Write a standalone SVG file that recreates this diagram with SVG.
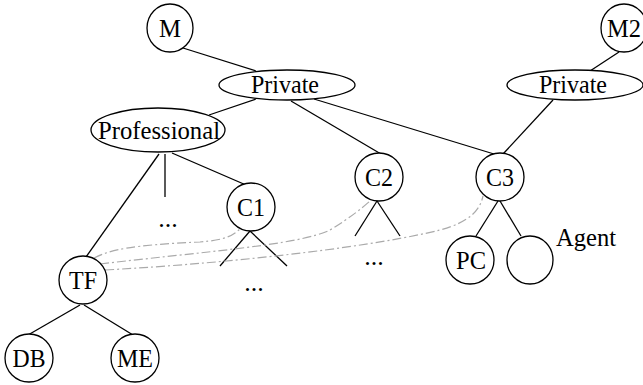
<svg xmlns="http://www.w3.org/2000/svg" width="643" height="385" viewBox="0 0 643 385">
<style>
.n{fill:#fff;stroke:#000;stroke-width:1.3}
.t{font-family:"Liberation Serif","Times New Roman",serif;font-size:26px;fill:#000;text-anchor:middle}
.e{stroke:#000;stroke-width:1.3;fill:none}
.d{stroke:#aaa;stroke-width:1.2;fill:none;stroke-dasharray:9 3 2 3}
</style>
<rect width="643" height="385" fill="#fff"/>
<g id="connectors">
<line class="e" x1="183" y1="48" x2="256" y2="71"/>
<line class="e" x1="619" y1="52" x2="590" y2="71"/>
<line class="e" x1="256" y1="99" x2="209" y2="115"/>
<line class="e" x1="291" y1="101" x2="381" y2="154"/>
<line class="e" x1="314" y1="99" x2="494" y2="154"/>
<line class="e" x1="553" y1="100" x2="503" y2="154"/>
<line class="e" x1="159" y1="154" x2="86" y2="257"/>
<line class="e" x1="165" y1="154" x2="165" y2="197"/>
<line class="e" x1="172" y1="153" x2="246" y2="185"/>
<line class="e" x1="80" y1="305" x2="28" y2="335"/>
<line class="e" x1="84" y1="305" x2="133" y2="335"/>
<line class="e" x1="250" y1="231" x2="220" y2="266"/>
<line class="e" x1="250" y1="231" x2="287" y2="266"/>
<line class="e" x1="377" y1="201" x2="355" y2="236"/>
<line class="e" x1="377" y1="201" x2="400" y2="236"/>
<line class="e" x1="498" y1="201" x2="476" y2="236"/>
<line class="e" x1="500" y1="201" x2="521" y2="236"/>
<path class="d" d="M94,258 C110,250 130,245 200,242 C225,240 232,236 240,229"/>
<path class="d" d="M100,264 C200,252 300,245 330,230 C350,218 362,208 370,201"/>
<path class="d" d="M105,270 C250,262 380,245 440,230 C470,222 480,210 483,196"/>
</g>
<g id="M"><ellipse class="n" cx="170" cy="28" rx="23" ry="24"/><text class="t" x="170" y="37" textLength="22" lengthAdjust="spacingAndGlyphs">M</text></g>
<g id="M2"><ellipse class="n" cx="624" cy="28" rx="23" ry="24"/><text class="t" x="624" y="37" textLength="34" lengthAdjust="spacingAndGlyphs">M2</text></g>
<g id="Private1"><ellipse class="n" cx="287" cy="85" rx="68" ry="15"/><text class="t" x="285" y="93" textLength="68" lengthAdjust="spacingAndGlyphs">Private</text></g>
<g id="Private2"><ellipse class="n" cx="575" cy="85" rx="68" ry="15"/><text class="t" x="573" y="93" textLength="68" lengthAdjust="spacingAndGlyphs">Private</text></g>
<g id="Professional"><ellipse class="n" cx="158" cy="130" rx="67" ry="22"/><text class="t" x="159" y="139" textLength="122" lengthAdjust="spacingAndGlyphs">Professional</text></g>
<g id="C1"><ellipse class="n" cx="251" cy="207" rx="24" ry="24"/><text class="t" x="251" y="216" textLength="28" lengthAdjust="spacingAndGlyphs">C1</text></g>
<g id="C2"><ellipse class="n" cx="379" cy="177" rx="24" ry="24"/><text class="t" x="379" y="186" textLength="28" lengthAdjust="spacingAndGlyphs">C2</text></g>
<g id="C3"><ellipse class="n" cx="500" cy="177" rx="24" ry="24"/><text class="t" x="500" y="186" textLength="28" lengthAdjust="spacingAndGlyphs">C3</text></g>
<g id="TF"><ellipse class="n" cx="83" cy="280" rx="24" ry="24"/><text class="t" x="83" y="289" textLength="28" lengthAdjust="spacingAndGlyphs">TF</text></g>
<g id="DB"><ellipse class="n" cx="29" cy="358" rx="24" ry="24"/><text class="t" x="29" y="367" textLength="33" lengthAdjust="spacingAndGlyphs">DB</text></g>
<g id="ME"><ellipse class="n" cx="135" cy="358" rx="24" ry="24"/><text class="t" x="135" y="367" textLength="36" lengthAdjust="spacingAndGlyphs">ME</text></g>
<g id="PC"><ellipse class="n" cx="470" cy="260" rx="24" ry="24"/><text class="t" x="471" y="269" textLength="30" lengthAdjust="spacingAndGlyphs">PC</text></g>
<g id="Agent"><ellipse class="n" cx="530" cy="260" rx="23" ry="24"/><text class="t" x="586" y="246" textLength="60" lengthAdjust="spacingAndGlyphs">Agent</text></g>
<g id="dots">
<text class="t" x="168" y="227">...</text>
<text class="t" x="254" y="291">...</text>
<text class="t" x="374" y="265">...</text>
</g>
</svg>
